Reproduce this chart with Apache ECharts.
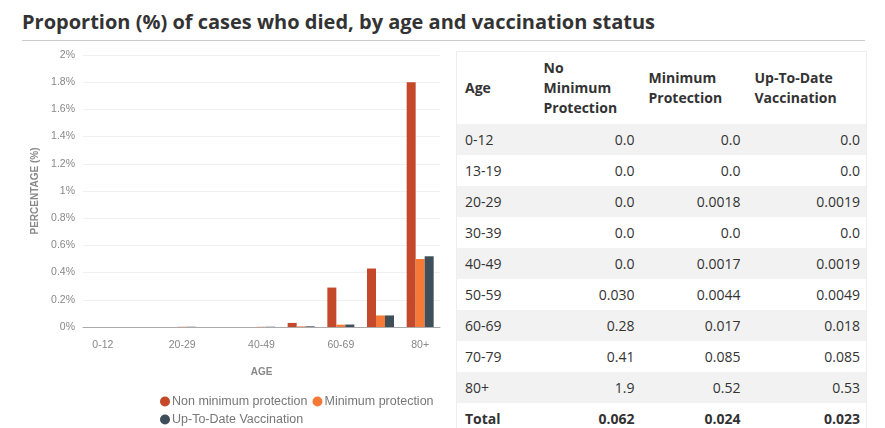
<!DOCTYPE html>
<html>
<head>
<meta charset="utf-8">
<script src="https://cdn.jsdelivr.net/npm/echarts@6/dist/echarts.min.js"></script>
<style>
  body { margin: 0; background: #fff; font-family: "Open Sans", sans-serif; color: #333; }
  #title { position: absolute; left: 22px; top: 8px; width: 843px; font-size: 20px; font-weight: bold; color: #333;
           border-bottom: 1px solid #ccc; padding-bottom: 5px; }
  #chart { position: absolute; left: 0; top: 42px; width: 450px; height: 386px; }
  table { position: absolute; left: 456px; top: 51px; width: 410px; border-collapse: collapse; font-size: 14px;
          border: 1px solid #eee; table-layout: fixed; }
  th { text-align: left; font-weight: bold; padding: 6px 8px; height: 40px; vertical-align: middle; line-height: 20px; }
  td { padding: 0 6px 0 8px; height: 31px; }
  td.n { text-align: right; }
  tr.g td { background: #f2f2f2; }
  tr.t td { font-weight: bold; }
</style>
</head>
<body>
<div id="title">Proportion (%) of cases who died, by age and vaccination status</div>
<div id="chart"></div>
<table id="tbl"></table>
<script>
const ages = ['0-12', '13-19', '20-29', '30-39', '40-49', '50-59', '60-69', '70-79', '80+'];
const seriesNames = ['Non minimum protection', 'Minimum protection', 'Up-To-Date Vaccination'];
const colors = ['#c4492a', '#f57a38', '#3e4f59'];
// chart values (percent)
const nonMin = [0, 0, 0, 0, 0, 0.03, 0.29, 0.43, 1.8];
const minProt = [0, 0, 0.0018, 0, 0.0017, 0.0044, 0.017, 0.085, 0.5];
const upToDate = [0, 0, 0.0019, 0, 0.0019, 0.0049, 0.018, 0.085, 0.52];
// table text
const tblNonMin = ['0.0', '0.0', '0.0', '0.0', '0.0', '0.030', '0.28', '0.41', '1.9'];
const tblMin = ['0.0', '0.0', '0.0018', '0.0', '0.0017', '0.0044', '0.017', '0.085', '0.52'];
const tblUtd = ['0.0', '0.0', '0.0019', '0.0', '0.0019', '0.0049', '0.018', '0.085', '0.53'];
const totals = ['0.062', '0.024', '0.023'];

let html = '<colgroup><col style="width:79px"><col style="width:105px"><col style="width:106px"><col style="width:120px"></colgroup>';
html += '<tr><th>Age</th><th>No Minimum<br>Protection</th><th>Minimum<br>Protection</th><th>Up-To-Date<br>Vaccination</th></tr>';
ages.forEach((a, i) => {
  html += `<tr class="${i % 2 === 0 ? 'g' : ''}"><td>${a}</td><td class="n">${tblNonMin[i]}</td><td class="n">${tblMin[i]}</td><td class="n">${tblUtd[i]}</td></tr>`;
});
html += `<tr class="t"><td>Total</td><td class="n">${totals[0]}</td><td class="n">${totals[1]}</td><td class="n">${totals[2]}</td></tr>`;
document.getElementById('tbl').innerHTML = html;

const chart = echarts.init(document.getElementById('chart'));
const axisText = { color: '#888', fontSize: 10.5, fontFamily: 'Liberation Sans' };
chart.setOption({
  animation: false,
  color: colors,
  grid: { left: 83, right: 10, top: 13, bottom: 101 },
  legend: {
    data: seriesNames, left: 155, top: 348, width: 295, itemGap: 5,
    icon: 'circle', itemWidth: 10, itemHeight: 10,
    textStyle: { color: '#777', fontSize: 12.5, fontFamily: 'Liberation Sans', padding: [0, 0, 0, -3] }
  },
  xAxis: {
    type: 'category', data: ages,
    name: 'AGE', nameLocation: 'middle', nameGap: 40,
    nameTextStyle: { color: '#888', fontSize: 10, fontWeight: 'bold', fontFamily: 'Liberation Sans' },
    axisLine: { lineStyle: { color: '#aaa' } },
    axisTick: { alignWithLabel: true, interval: 1, length: 6, lineStyle: { color: '#ccc' } },
    axisLabel: { ...axisText, interval: 1, margin: 13 }
  },
  yAxis: {
    type: 'value', min: 0, max: 2, interval: 0.2,
    name: 'PERCENTAGE (%)', nameLocation: 'middle', nameGap: 42,
    nameTextStyle: { color: '#888', fontSize: 10, fontWeight: 'bold', fontFamily: 'Liberation Sans' },
    axisLabel: { ...axisText, formatter: v => (Math.round(v * 10) / 10) + '%' },
    splitLine: { lineStyle: { color: '#f0f0f0' } }
  },
  series: [
    { name: seriesNames[0], type: 'bar', data: nonMin, barWidth: 9, barGap: '0%', barCategoryGap: '10%' },
    { name: seriesNames[1], type: 'bar', data: minProt, barWidth: 9 },
    { name: seriesNames[2], type: 'bar', data: upToDate, barWidth: 9 }
  ]
});
</script>
</body>
</html>
